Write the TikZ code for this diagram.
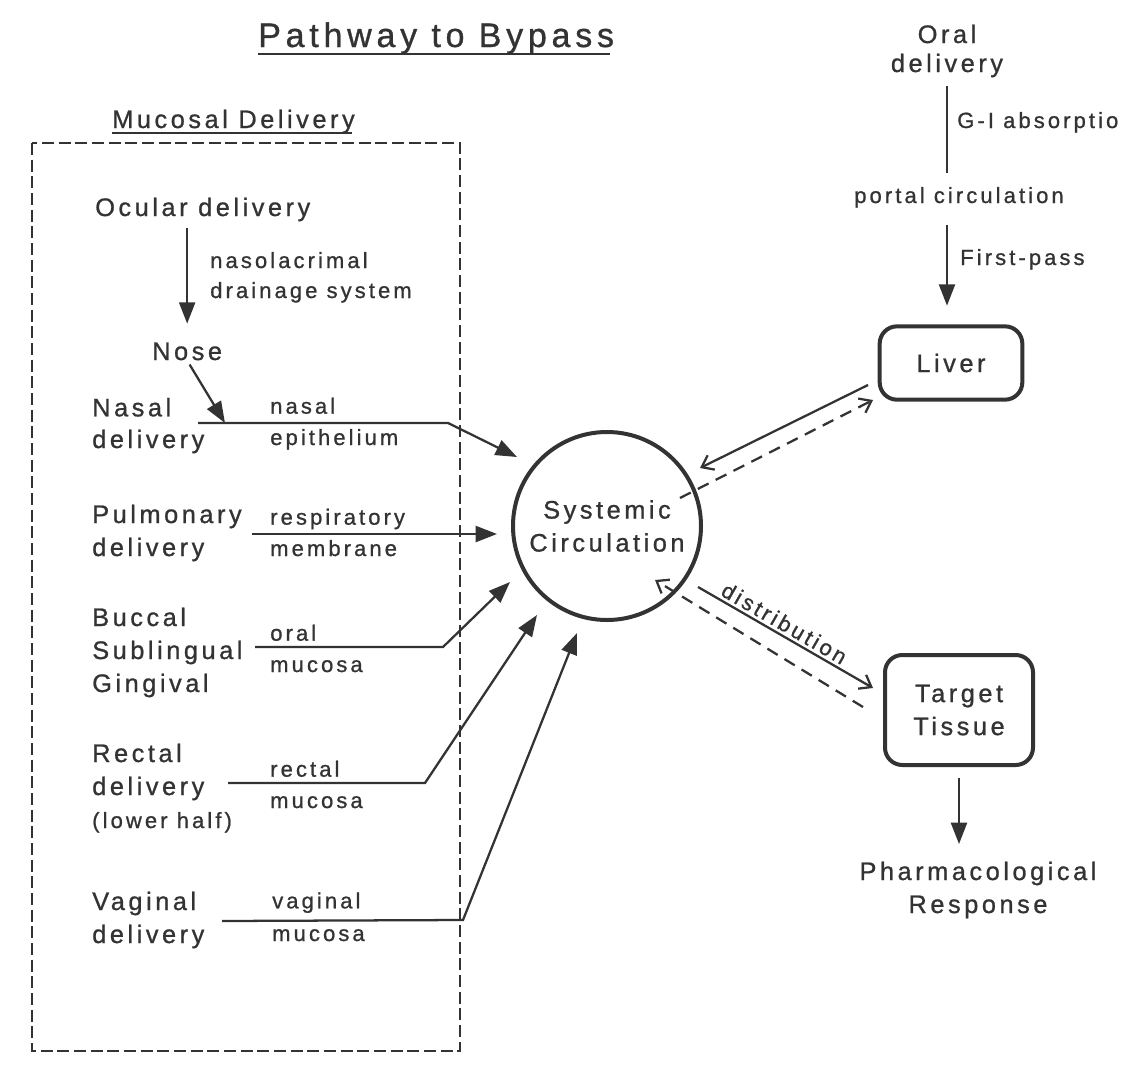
\documentclass[tikz,border=0pt]{standalone}
\usepackage{fontspec}
\setmainfont{Liberation Sans}[LetterSpace=14,FakeBold=0.9]
\usetikzlibrary{arrows.meta,calc}
\definecolor{ink}{gray}{0.2}
\newcommand\fsmain{\fontsize{19}{24.75}\selectfont}
\newcommand\fssmall{\fontsize{16.5}{23.5}\selectfont}
\newcommand\fstitle{\fontsize{25.5}{30}\selectfont}
\begin{document}
\begin{tikzpicture}[x=0.75pt,y=-0.75pt,
  lbl/.style={inner sep=0pt, anchor=base west, align=left, text=ink, font=\fsmain},
  sub/.style={inner sep=0pt, anchor=base west, align=left, text=ink, font=\fssmall},
  conn/.style={draw=ink, line width=1.7pt},
  fillarrow/.style={conn, -{Triangle[length=16pt,width=12pt]}},
  openarrow/.style={conn, -{Straight Barb[length=8pt,width=12pt]}},
  dashconn/.style={dash pattern=on 9pt off 6pt},
  roundbox/.style={draw=ink, line width=3pt, rounded corners=13pt, inner sep=0pt, text=ink, font=\fsmain, align=center}
]
\useasboundingbox[fill=white] (0,0) rectangle (1128,1082);

% titles
\node[lbl, font=\fstitle] (title) at (258,47) {Pathway to Bypass};
\draw[ink, line width=1.8pt] ($(title.base west)+(0,7)$) -- ($(title.base east)+(-4,7)$);
\node[lbl] (mucosal) at (112,128) {Mucosal Delivery};
\draw[ink, line width=1.5pt] ($(mucosal.base west)+(0,5)$) -- ($(mucosal.base east)+(-3,5)$);

% dashed mucosal box
\draw[draw=ink, line width=1.8pt, dash pattern=on 9pt off 3.5pt] (32,143) rectangle (460,1051);

% left column (anchors are on the last line's baseline)
\node[lbl] (ocular) at (95,216) {Ocular delivery};
\node[sub] (naso) at (210,298) {nasolacrimal\\[-1pt]drainage system};
\node[lbl] (nose) at (152,360) {Nose};
\node[lbl] (nasal) at (92,448) {Nasal\\[-1pt]delivery};
\node[sub] (nasalepi) at (270,445) {nasal\\epithelium};
\node[lbl] (pulm) at (92,556) {Pulmonary\\delivery};
\node[sub] (resp) at (270,556) {respiratory\\membrane};
\node[lbl] (buccal) at (92,692) {Buccal\\Sublingual\\Gingival};
\node[sub] (oralmuc) at (270,672) {oral\\mucosa};
\node[lbl] (rectal) at (92,795) {Rectal\\delivery};
\node[sub] (lowerhalf) at (92,828) {(lower half)};
\node[sub] (rectmuc) at (270,808) {rectal\\mucosa};
\node[lbl] (vag) at (92,943) {Vaginal\\delivery};
\node[sub] (vagmuc) at (272,941) {vaginal\\[1pt]mucosa};

% systemic circulation
\node[circle, draw=ink, line width=3pt, minimum size=141pt, inner sep=0pt, align=center, font=\fsmain, text=ink] (sys) at (607,526) {Systemic\\Circulation};

% right column
\node[lbl, anchor=base, align=center] (oraldel) at (947,72) {Oral\\[-3pt]delivery};
\node[sub] (gi) at (957,128) {G-I absorptio};
\node[sub, anchor=base] (portal) at (959,203) {portal circulation};
\node[sub] (firstpass) at (960,265) {First-pass};
\node[roundbox, minimum width=107pt, minimum height=55pt] (liver) at (951,363) {Liver};
\node[roundbox, minimum width=111pt, minimum height=82.5pt] (target) at (959,710) {Target\\Tissue};
\node[lbl, anchor=base, align=center] (pharm) at (978,913) {Pharmacological\\Response};

% connector points
\coordinate (nasalJ) at (225,423);
\coordinate (nasalS) at (198,423);
\coordinate (nasalB) at (448,423);
\coordinate (nasalT) at (517,457);
\coordinate (pulmS) at (252,534);
\coordinate (pulmT) at (497,534);
\coordinate (oralS) at (255,647);
\coordinate (oralB) at (443,647);
\coordinate (oralT) at (510,582);
\coordinate (rectS) at (228,783);
\coordinate (rectB) at (425,783);
\coordinate (rectT) at (537,615);
\coordinate (vagS) at (222,921);
\coordinate (vagB) at (463,920);
\coordinate (vagT) at (577,633);
\coordinate (lvA) at (868,385);
\coordinate (sysA) at (700,468);
\coordinate (sysB) at (680,498);
\coordinate (lvB) at (873,400);
\coordinate (dA) at (698,587);
\coordinate (tgA) at (873,688);
\coordinate (tgB) at (863,707);
\coordinate (dB) at (655,580);

% left connectors
\draw[fillarrow, shorten <=4.5pt, shorten >=14pt] (ocular.south -| nose.north) -- (nose.north);
\draw[fillarrow, shorten <=3.5pt] (nose.south) -- (nasalJ);
\draw[fillarrow] (nasalS) -- (nasalB) -- (nasalT);
\draw[fillarrow] (pulmS) -- (pulmT);
\draw[fillarrow] (oralS) -- (oralB) -- (oralT);
\draw[fillarrow] (rectS) -- (rectB) -- (rectT);
\draw[fillarrow] (vagS) -- (vagB) -- (vagT);

% right connectors
\draw[conn, shorten <=6.5pt, shorten >=10.5pt] (oraldel.south) -- (oraldel.south |- portal.north);
\draw[fillarrow, shorten <=12.5pt, shorten >=14pt] (portal.south -| oraldel.south) -- (liver.north -| oraldel.south);
\draw[fillarrow, shorten <=8pt, shorten >=13pt] (target.south) -- (target.south |- pharm.north);
\draw[openarrow] (lvA) -- (sysA);
\draw[openarrow, dashconn] (sysB) -- (lvB);
\draw[openarrow] (dA) -- (tgA) node[pos=0.46, sloped, above=2pt, inner sep=0pt, font=\fssmall, text=ink] (distlbl) {distribution};
\draw[openarrow, dashconn] (tgB) -- (dB);
\end{tikzpicture}
\end{document}
